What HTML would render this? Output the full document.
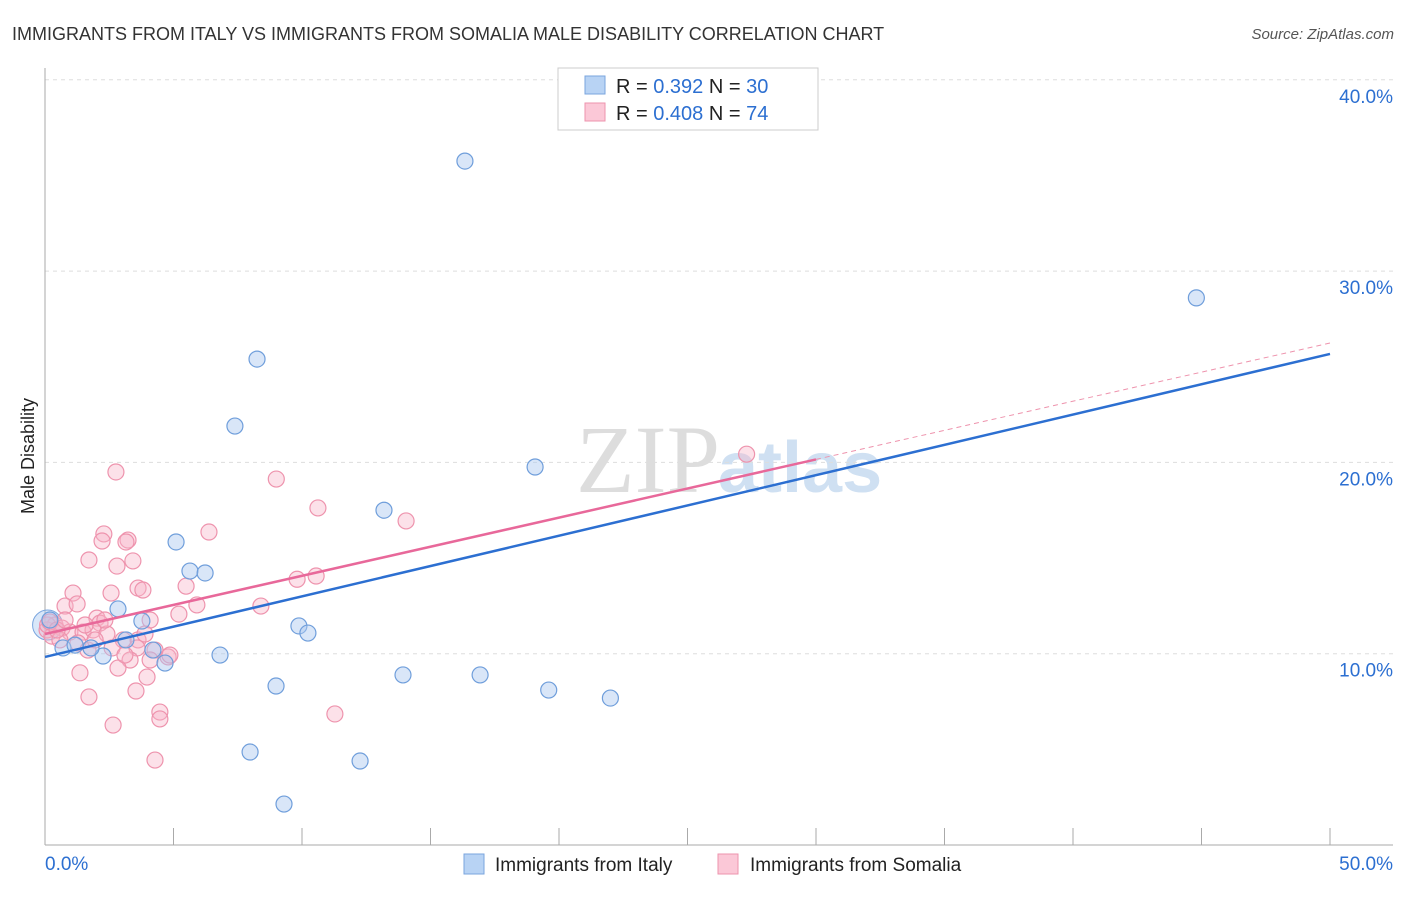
<!DOCTYPE html>
<html><head><meta charset="utf-8"><style>
body{margin:0;background:#fff;font-family:"Liberation Sans",sans-serif}
</style></head><body>
<svg id="c" width="1406" height="892" xmlns="http://www.w3.org/2000/svg">
<text x="12" y="40" font-size="18" fill="#333">IMMIGRANTS FROM ITALY VS IMMIGRANTS FROM SOMALIA MALE DISABILITY CORRELATION CHART</text>
<text x="1394" y="39" font-size="15" fill="#555" font-style="italic" text-anchor="end">Source: ZipAtlas.com</text>
<text x="0" y="0" transform="translate(34,456) rotate(-90)" font-size="18" fill="#222" text-anchor="middle">Male Disability</text>
<text x="720" y="492" font-size="96" fill="#ddd" font-family="Liberation Serif,serif" text-anchor="end">ZIP</text>
<text x="718" y="492" font-size="72" fill="#cfe0f2" font-weight="bold">atlas</text>
<g id="grid"></g><g id="marks"></g>
<g>
<rect x="558" y="68" width="260" height="62" fill="#fff" stroke="#ccc"/>
<rect x="585" y="76" width="20" height="18" fill="#b8d3f4" stroke="#7aa5de"/>
<rect x="585" y="103" width="20" height="18" fill="#fbc8d7" stroke="#ee93ad"/>
<text x="616" y="93" font-size="20" fill="#222">R = <tspan fill="#2c6fd1">0.392</tspan>   N = <tspan fill="#2c6fd1">30</tspan></text>
<text x="616" y="120" font-size="20" fill="#222">R = <tspan fill="#2c6fd1">0.408</tspan>   N = <tspan fill="#2c6fd1">74</tspan></text>
</g>
<g>
<rect x="464" y="854" width="20" height="20" fill="#b8d3f4" stroke="#7aa5de"/>
<text x="495" y="871" font-size="19" fill="#222">Immigrants from Italy</text>
<rect x="718" y="854" width="20" height="20" fill="#fbc8d7" stroke="#ee93ad"/>
<text x="750" y="871" font-size="19" fill="#222">Immigrants from Somalia</text>
</g>
</svg>
<script>
const yTicks=[10,20,30,40];
const yTickLabels=["10.0%","20.0%","30.0%","40.0%"];
const xTickLabels=["0.0%","50.0%"];
const italyX=[16.34,44.8,8.25,7.39,19.07,13.19,5.1,5.64,6.23,2.84,3.77,9.88,10.23,3.15,6.81,4.2,4.67,2.26,1.79,0.7,0.19,8.99,13.93,16.93,19.6,22.0,7.98,12.26,9.3,1.17];
const italyY=[35.75,28.6,25.4,21.9,19.76,17.5,15.84,14.32,14.22,12.34,11.71,11.45,11.08,10.72,9.93,10.19,9.51,9.88,10.3,10.3,11.76,8.31,8.89,8.89,8.1,7.68,4.86,4.39,2.14,10.45];
const somaliaX=[2.76,9.0,27.3,10.62,14.05,6.38,2.29,2.22,3.23,3.15,1.71,3.42,2.8,9.81,10.55,5.49,3.62,3.81,2.57,1.09,5.91,8.4,0.78,1.25,5.21,4.09,2.02,2.14,0.39,0.66,0.97,1.48,1.87,2.41,3.62,3.04,0.08,0.27,0.58,1.28,1.67,2.61,3.58,4.28,4.79,3.31,4.09,2.84,3.97,1.36,3.54,1.71,4.47,4.47,11.28,2.65,4.28,0.1,0.19,0.47,0.78,1.56,1.95,2.33,3.11,3.89,4.86];
const somaliaY=[19.5,19.13,20.43,17.62,16.94,16.36,16.26,15.89,15.94,15.84,14.9,14.85,14.58,13.89,14.06,13.53,13.43,13.33,13.17,13.17,12.55,12.49,12.49,12.6,12.07,11.76,11.86,11.6,11.5,11.34,11.13,11.13,11.24,11.03,10.72,10.72,11.24,10.92,10.72,10.56,10.19,10.3,10.3,10.19,9.83,9.67,9.67,9.25,8.78,9.0,8.05,7.74,6.95,6.59,6.85,6.27,4.44,11.5,11.66,11.24,11.76,11.5,10.72,11.76,9.93,11.03,9.93];
const italyTrend=[9.83,25.67];
const somaliaTrend=[11.03,26.24];
const x=v=>45+v*25.7, y=v=>845-v*19.13;
const NS="http://www.w3.org/2000/svg";
const grid=document.getElementById('grid'), marks=document.getElementById('marks');
function mk(tag,attrs,parent){const e=document.createElementNS(NS,tag);for(const k in attrs)e.setAttribute(k,attrs[k]);parent.appendChild(e);return e;}
yTicks.forEach((t,i)=>{
 const l=mk('line',{x1:45,x2:1393,y1:y(t),y2:y(t),stroke:'#ddd','stroke-dasharray':'4,4'},grid);
 
 
 const tx=mk('text',{x:1393,y:y(t)+23,'font-size':19,fill:'#2c6fd1','text-anchor':'end'},grid);
 tx.textContent=yTickLabels[i];
 
 
});
const ax=mk('line',{x1:45,x2:45,y1:68,y2:845,stroke:'#aaa'},grid);


const bx=mk('line',{x1:45,x2:1393,y1:845,y2:845,stroke:'#aaa'},grid);


for(let v=0;v<=50;v+=5){
 const t=mk('line',{x1:x(v),x2:x(v),y1:828,y2:845,stroke:'#aaa'},grid);
 
 
}
[[0,'start',45],[50,'end',1393]].forEach((d,i)=>{
 const tx=mk('text',{x:d[2],y:870,'font-size':19,fill:'#2c6fd1','text-anchor':d[1]},grid);
 tx.textContent=xTickLabels[i];
 
 
});
const bc=mk('circle',{cx:x(0.1),cy:y(11.5),r:15,fill:'rgba(160,195,240,0.4)',stroke:'#7aa5de'},marks);


somaliaX.forEach((v,i)=>{
 const c=mk('circle',{cx:x(v),cy:y(somaliaY[i]),r:8,fill:'rgba(248,180,200,0.4)',stroke:'#ee93ad','stroke-width':1.2},marks);
 
 
});
italyX.forEach((v,i)=>{
 const c=mk('circle',{cx:x(v),cy:y(italyY[i]),r:8,fill:'rgba(170,200,240,0.45)',stroke:'#6f9edb','stroke-width':1.2},marks);
 
 
});
const sl=somaliaTrend[0]+(somaliaTrend[1]-somaliaTrend[0])*0.6;
const pd=mk('line',{x1:x(30),y1:y(sl),x2:x(50),y2:y(somaliaTrend[1]),stroke:'#ee93ad','stroke-dasharray':'5,4','stroke-width':1},marks);


const ps=mk('line',{x1:x(0),y1:y(somaliaTrend[0]),x2:x(30),y2:y(sl),stroke:'#e8689a','stroke-width':2.5},marks);


const bl=mk('line',{x1:x(0),y1:y(italyTrend[0]),x2:x(50),y2:y(italyTrend[1]),stroke:'#2c6fd1','stroke-width':2.5},marks);


</script>
</body></html>
